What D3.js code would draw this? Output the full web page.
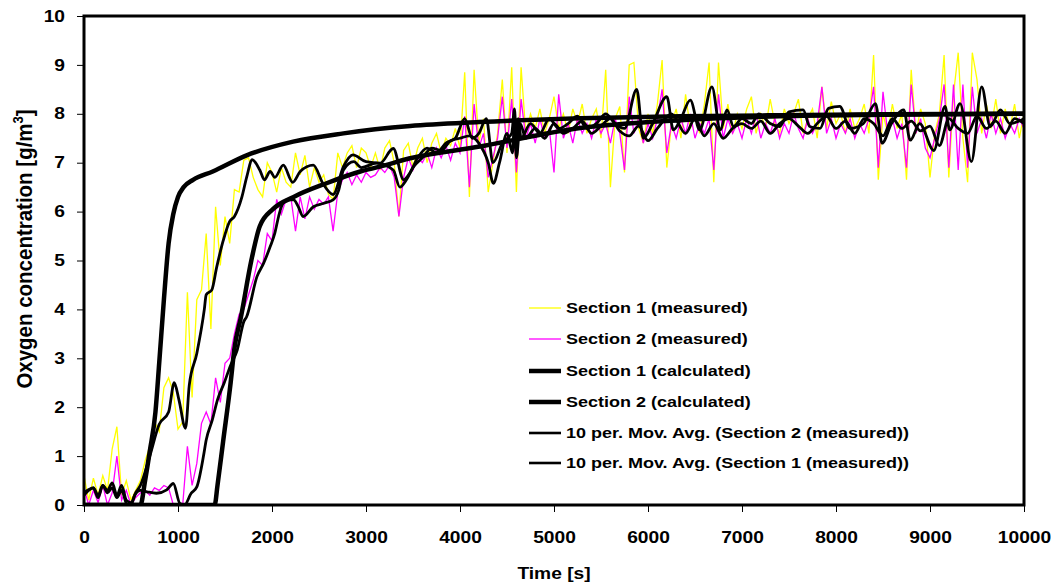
<!doctype html>
<html>
<head>
<meta charset="utf-8">
<title>Oxygen concentration</title>
<style>
    body { margin: 0; padding: 0; background: #fff; }
    svg text { font-family: "Liberation Sans", Arial, sans-serif; font-weight: bold; fill: #000; }
</style>
</head>
<body>
<svg id="chart" width="1055" height="588"></svg>
<script src="https://d3js.org/d3.v7.min.js"></script>
<script>
// ticks
var xTicks = [0, 1000, 2000, 3000, 4000, 5000, 6000, 7000, 8000, 9000, 10000];
var yTicks = [0, 1, 2, 3, 4, 5, 6, 7, 8, 9, 10];

// measured series, one value every 50 s from 0 to 10000 s
var sampleStep = 50;
var sec1Measured = [
    0.6, 0.1, 0.55, 0.2, 0.6, 0.3, 1.15, 1.6, 0.2, 0.5,
    0.1, 0.3, 0.5, 0.9, 1.2, 1.7, 1.5, 2.4, 2.6, 2.3,
    1.55, 1.7, 4.35, 2.2, 4.2, 4.4, 5.55, 3.6, 6.1, 4.9,
    5.9, 5.35, 6.45, 6.4, 7.05, 7.1, 6.7, 6.45, 6.3, 7.0,
    6.8, 6.4, 6.9, 6.6, 6.5, 7.2, 6.75, 7.15, 6.5, 6.9,
    6.6, 6.75, 6.35, 6.25, 7.2, 6.9, 7.2, 7.35, 6.9, 7.3,
    7.2, 6.9, 7.2, 6.85, 7.3, 7.45, 7.0, 5.9, 7.25, 7.4,
    6.9, 7.3, 7.5, 7.0, 7.4, 7.6, 7.2, 7.5, 7.35, 7.7,
    7.3, 8.85, 6.3, 8.9, 7.4, 7.9, 6.4, 7.0, 7.6, 8.7,
    7.2, 8.95, 6.4, 8.95, 7.6, 8.0, 7.7, 8.1, 7.6, 7.9,
    8.35, 7.7, 8.0, 7.6, 8.1, 7.8, 8.2, 7.6, 7.9, 8.1,
    7.5, 8.9, 6.5, 7.9, 8.15, 6.8, 9.0, 9.05, 7.7, 7.4,
    8.0, 7.6, 8.2, 9.1, 6.9, 7.8, 8.1, 7.5, 8.4, 7.7,
    8.0, 7.6, 8.2, 9.05, 6.6, 9.05, 7.7, 8.2, 7.6, 8.0,
    7.7, 8.1, 8.35, 7.6, 8.0, 7.7, 8.3, 7.8, 7.6, 8.1,
    7.8, 8.0, 8.3, 7.6, 7.9, 8.1, 7.5, 8.55, 7.7, 8.25,
    7.8, 8.0, 7.6, 8.1, 7.7, 7.9, 8.2, 7.6, 9.2, 6.65,
    8.0, 7.6, 8.2, 7.7, 8.0, 6.65, 8.9, 7.6, 8.1, 7.8,
    6.7, 7.6, 8.0, 9.2, 6.7, 8.4, 9.25, 7.5, 6.6, 9.25,
    8.7, 7.6, 8.2, 7.7, 8.3, 7.6, 8.1, 7.7, 8.2, 7.5,
    8.0
];
var sec2Measured = [
    0.35, 0.0, 0.3, 0.05, 0.4, 0.0, 0.25, 1.0, 0.1, 0.3,
    0.0, 0.15, 0.25, 0.3, 0.2, 0.35, 0.3, 0.4, 0.35, 0.0,
    -0.1, 0.0, 1.2, 0.4, 0.85, 1.67, 1.9, 1.65, 2.6, 2.1,
    2.9, 3.0, 3.5, 3.9, 4.0, 4.3, 4.6, 5.0, 4.9, 5.55,
    5.4, 6.25, 5.95, 6.25, 6.3, 5.6, 6.3, 5.85, 6.3, 6.05,
    6.25, 6.15, 6.3, 5.6, 6.4, 6.65, 6.8, 6.55, 6.75, 6.6,
    6.8, 6.7, 6.75, 6.9, 6.8, 6.95, 6.7, 5.9, 6.7, 7.1,
    6.85, 7.1, 7.0, 7.2, 6.9, 7.3, 7.1, 7.35, 7.05, 7.4,
    7.2, 7.95, 6.5, 8.2, 7.3, 7.6, 6.7, 7.1, 7.5, 8.35,
    7.3, 8.3, 6.8, 8.3, 7.5, 7.8, 7.4, 7.9, 7.5, 7.7,
    6.8, 8.4, 7.5, 7.8, 7.4, 7.9, 7.6, 7.8, 7.5, 7.9,
    7.6, 7.8, 7.4, 7.9, 7.6, 6.85, 8.35, 7.6, 7.9, 7.4,
    7.8, 7.5, 7.9, 8.5, 7.2, 7.8, 7.5, 7.9, 7.6, 8.0,
    7.5, 7.8, 7.6, 7.9, 6.85, 8.4, 7.5, 7.9, 7.6, 7.8,
    7.5, 7.9, 7.6, 8.0, 7.5, 7.8, 7.6, 7.9, 7.5, 7.8,
    7.6, 8.0, 7.7, 7.5, 7.9, 7.6, 7.8, 8.55, 7.6, 7.9,
    7.5, 7.8, 7.6, 7.9, 7.5, 7.8, 7.6, 7.9, 8.55, 6.9,
    8.45, 7.6, 7.9, 7.5, 7.8, 6.9, 8.6, 7.6, 7.9, 7.3,
    7.1, 7.5, 7.9, 8.6, 6.9, 8.6, 6.85, 8.6, 6.9, 8.55,
    7.6, 7.9, 7.5, 8.0, 7.6, 7.9, 7.5, 7.8, 7.6, 7.9,
    7.7
];

// calculated curves
var sec1CalcTime = [0, 600, 650, 700, 760, 800, 850, 900, 950, 1000, 1060, 1160, 1370, 1730, 2225, 2760, 3470, 4200, 5280, 6340, 7400, 8500, 10000];
var sec1CalcValue = [0, 0, 0.5, 1.1, 1.9, 2.9, 4.2, 5.35, 5.95, 6.3, 6.5, 6.65, 6.82, 7.15, 7.43, 7.6, 7.75, 7.83, 7.91, 7.95, 7.97, 7.99, 8.0];
var sec2CalcTime = [0, 1390, 1420, 1480, 1560, 1600, 1670, 1780, 1870, 2010, 2230, 2580, 2940, 3150, 3470, 4210, 5280, 6340, 7400, 8500, 10000];
var sec2CalcValue = [0, 0, 0.4, 1.3, 2.5, 3.2, 3.85, 5.0, 5.7, 6.05, 6.3, 6.58, 6.82, 6.92, 7.09, 7.33, 7.71, 7.87, 7.95, 7.98, 8.0];

// 10 period moving averages
var sec1AvgTime = [0, 100, 150, 200, 250, 300, 350, 400, 450, 500, 550, 600, 700, 800, 900, 960, 1010, 1080, 1120, 1200,
    1280, 1300, 1360, 1410, 1480, 1550, 1600, 1680, 1730, 1790, 1870, 1920, 1980, 2030, 2120, 2220, 2300, 2440, 2540, 2650,
    2760, 2860, 3000, 3150, 3290, 3400, 3470, 3550, 3650, 3750, 3850, 3950, 4050, 4130, 4200, 4280, 4350, 4450, 4550, 4580,
    4600, 4620, 4650, 4750, 4850, 4950, 5050, 5150, 5250, 5350, 5450, 5550, 5650, 5750, 5880, 5950, 6050, 6200, 6270, 6350,
    6450, 6550, 6680, 6770, 6840, 6910, 7000, 7100, 7180, 7300, 7400, 7500, 7650, 7720, 7830, 7920, 8040, 8150, 8290, 8420,
    8490, 8590, 8720, 8790, 8890, 9040, 9160, 9210, 9320, 9440, 9550, 9640, 9750, 9850, 10000];
var sec1AvgValue = [0.25, 0.35, 0.2, 0.4, 0.3, 0.45, 0.2, 0.4, 0.1, 0.05, 0.25, 0.4, 1.0, 1.65, 1.9, 2.5, 2.15, 1.57, 2.45, 3.1,
    4.0, 4.3, 4.4, 4.85, 5.4, 5.8, 5.9, 6.3, 6.7, 7.06, 6.85, 6.65, 6.82, 6.7, 6.95, 6.6, 6.82, 6.95, 6.58, 6.35,
    6.92, 7.16, 7.02, 6.99, 7.29, 6.65, 6.8, 7.1, 7.3, 7.2, 7.4, 7.5, 7.9, 7.5, 7.6, 7.9, 7.0, 7.4, 7.6, 8.1,
    7.3, 7.9, 7.5, 7.8, 7.6, 7.9, 7.7, 7.8, 7.95, 7.7, 7.8, 8.0, 7.8, 7.7, 8.5, 7.5, 7.8, 8.35, 7.67, 7.9,
    8.28, 7.67, 8.55, 7.67, 8.08, 7.74, 7.9, 7.8, 8.0, 7.8, 7.74, 8.04, 8.08, 7.74, 7.7, 8.11, 8.15, 7.7, 7.8, 8.21,
    7.4, 7.8, 8.08, 7.46, 7.8, 7.25, 8.15, 7.67, 8.21, 7.02, 8.55, 7.74, 8.08, 7.8, 7.9];
var sec2AvgTime = [0, 100, 150, 200, 250, 300, 350, 400, 460, 500, 540, 600, 670, 770, 880, 950, 1020, 1070, 1140, 1200,
    1270, 1300, 1365, 1420, 1490, 1560, 1630, 1700, 1730, 1840, 1910, 1980, 2030, 2070, 2100, 2160, 2230, 2280, 2330, 2440,
    2550, 2650, 2710, 2760, 2870, 2950, 3110, 3290, 3360, 3430, 3500, 3600, 3700, 3800, 3900, 4000, 4100, 4200, 4300, 4355,
    4420, 4500, 4560, 4580, 4600, 4640, 4700, 4800, 4900, 5000, 5100, 5200, 5300, 5400, 5500, 5600, 5700, 5800, 5900, 6000,
    6100, 6250, 6400, 6500, 6600, 6700, 6800, 6900, 7000, 7100, 7200, 7300, 7400, 7500, 7600, 7700, 7800, 7900, 8000, 8100,
    8200, 8300, 8400, 8500, 8600, 8700, 8800, 8900, 9000, 9100, 9200, 9300, 9400, 9500, 9600, 9700, 9800, 9900, 10000];
var sec2AvgValue = [0.2, 0.35, 0.15, 0.4, 0.25, 0.35, 0.15, 0.3, 0.0, 0.0, 0.2, 0.3, 0.27, 0.24, 0.31, 0.44, 0.03, 0.0, 0.24, 0.37,
    0.99, 1.33, 1.74, 2.15, 2.49, 2.86, 3.17, 3.75, 3.85, 4.67, 4.94, 5.28, 5.56, 5.9, 6.1, 6.24, 6.24, 6.1, 5.9, 6.1,
    6.17, 6.24, 6.44, 6.85, 7.02, 6.9, 6.99, 6.85, 6.5, 6.65, 6.9, 7.1, 7.3, 7.25, 7.45, 7.5, 7.55, 7.4, 7.0, 6.58,
    7.0, 7.6, 7.2, 8.0, 7.1, 7.8, 7.5, 7.7, 7.5, 7.8, 7.6, 7.7, 7.85, 7.6, 7.75, 7.9, 7.65, 7.55, 7.75, 7.45,
    7.7, 8.0, 7.6, 7.9, 7.55, 7.8, 7.5, 7.7, 7.8, 7.7, 7.85, 7.6, 7.8, 7.9, 7.75, 7.6, 7.8, 7.95, 7.7, 7.85,
    7.6, 7.9, 7.8, 7.55, 7.9, 7.7, 7.85, 7.65, 7.75, 7.35, 7.9, 7.7, 7.6, 7.95, 7.7, 7.85, 7.6, 7.9, 7.8];

var legendNames = ["Section 1 (measured)", "Section 2 (measured)", "Section 1 (calculated)", "Section 2 (calculated)",
    "10 per. Mov. Avg. (Section 2 (measured))", "10 per. Mov. Avg. (Section 1 (measured))"];

var margin = {top: 16, right: 31, bottom: 83, left: 84},
    width = 1055 - margin.left - margin.right,
    height = 588 - margin.top - margin.bottom;
var stretch = 1.2; // the original text is wider than it is tall

var x = d3.scaleLinear().domain([0, 10000]).range([0, width]);
var y = d3.scaleLinear().domain([0, 10]).range([height, 0]);

var svg = d3.select("#chart");
var g = svg.append("g")
    .attr("transform", "translate(" + margin.left + "," + margin.top + ")");

g.append("clipPath").attr("id", "plotClip")
    .append("rect").attr("width", width).attr("height", height);

function pairs(times, values) {
    return times.map(function(t, i) { return [t, values[i]]; });
}
function sampled(values) {
    return values.map(function(v, i) { return [i * sampleStep, v]; });
}

var line = d3.line().x(function(d) { return x(d[0]); }).y(function(d) { return y(d[1]); });
var smooth = d3.line().x(function(d) { return x(d[0]); }).y(function(d) { return y(d[1]); }).curve(d3.curveMonotoneX);

var lines = g.append("g").attr("clip-path", "url(#plotClip)");

lines.append("path").datum(sampled(sec1Measured)).attr("d", line)
    .attr("fill", "none").attr("stroke", "#ffff00").attr("stroke-width", 1.3);
lines.append("path").datum(sampled(sec2Measured)).attr("d", line)
    .attr("fill", "none").attr("stroke", "#ff00ff").attr("stroke-width", 1.3);

lines.append("path").datum(pairs(sec1CalcTime, sec1CalcValue)).attr("d", smooth)
    .attr("fill", "none").attr("stroke", "#000").attr("stroke-width", 4.5);
lines.append("path").datum(pairs(sec2CalcTime, sec2CalcValue)).attr("d", smooth)
    .attr("fill", "none").attr("stroke", "#000").attr("stroke-width", 4.5);

lines.append("path").datum(pairs(sec2AvgTime, sec2AvgValue)).attr("d", smooth)
    .attr("fill", "none").attr("stroke", "#000").attr("stroke-width", 2.8).attr("stroke-linejoin", "round");
lines.append("path").datum(pairs(sec1AvgTime, sec1AvgValue)).attr("d", smooth)
    .attr("fill", "none").attr("stroke", "#000").attr("stroke-width", 2.8).attr("stroke-linejoin", "round");

// axes
var yAxis = g.append("g")
    .call(d3.axisLeft(y).tickValues(yTicks).tickSize(7).tickFormat(d3.format("d")));
yAxis.select(".domain").remove();
yAxis.selectAll("line").attr("stroke", "#000");
yAxis.selectAll("text")
    .attr("x", -19 / stretch)
    .attr("transform", "scale(" + stretch + ",1)")
    .style("font-size", "16px").attr("fill", "#000");

var xAxis = g.append("g")
    .attr("transform", "translate(0," + height + ")")
    .call(d3.axisBottom(x).tickValues(xTicks).tickSize(7).tickFormat(d3.format("d")));
xAxis.select(".domain").remove();
xAxis.selectAll("line").attr("stroke", "#000");
xAxis.selectAll("text")
    .attr("y", 38).attr("dy", null)
    .attr("transform", "scale(" + stretch + ",1)")
    .style("font-size", "16px").attr("fill", "#000");

// frame
g.append("rect")
    .attr("width", width).attr("height", height)
    .attr("fill", "none").attr("stroke", "#000").attr("stroke-width", 3);

// axis titles
svg.append("text")
    .attr("transform", "translate(" + (margin.left + width / 2) + ",579) scale(" + stretch + ",1)")
    .attr("text-anchor", "middle").style("font-size", "16px")
    .text("Time [s]");

var yTitle = svg.append("text")
    .attr("transform", "translate(32,249) scale(1.1,1) rotate(-90)")
    .attr("text-anchor", "middle").style("font-size", "20.5px");
yTitle.append("tspan").text("Oxygen concentration [g/m");
yTitle.append("tspan").attr("dy", -8).style("font-size", "13px").text("3");
yTitle.append("tspan").attr("dy", 8).text("]");

// legend
var legendStyles = [
    {color: "#ffff00", w: 1.3},
    {color: "#ff00ff", w: 1.3},
    {color: "#000", w: 4.5},
    {color: "#000", w: 4.5},
    {color: "#000", w: 2.6},
    {color: "#000", w: 2.6}
];
var legend = svg.append("g");
var rowY = [308, 339, 371, 402, 433, 463];
legendNames.forEach(function(name, i) {
    legend.append("line")
        .attr("x1", 529).attr("x2", 561).attr("y1", rowY[i]).attr("y2", rowY[i])
        .attr("stroke", legendStyles[i].color).attr("stroke-width", legendStyles[i].w);
    legend.append("text")
        .attr("transform", "translate(566," + (rowY[i] + 5) + ") scale(" + stretch + ",1)")
        .style("font-size", "15px")
        .text(name);
});
</script>
</body>
</html>
